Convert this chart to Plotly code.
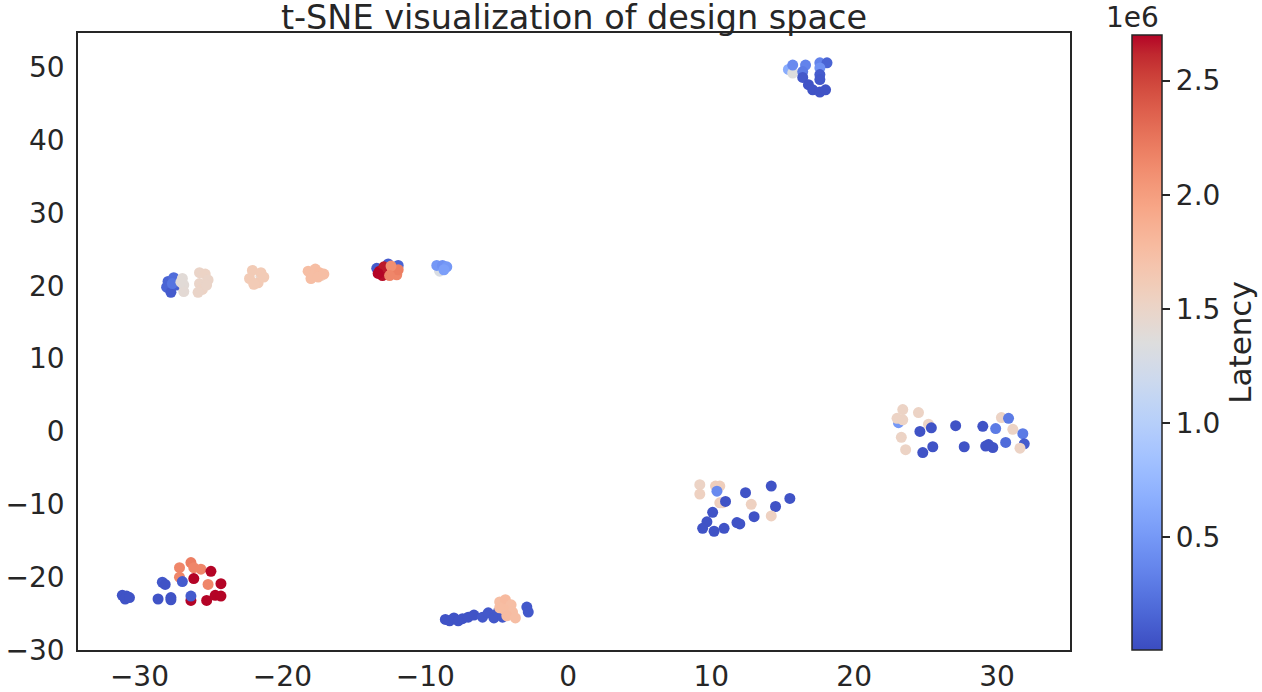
import plotly.graph_objects as go

# ---------------- data ----------------
# Cluster A: top right
xa = [15.4, 15.7, 15.7, 16.6, 16.4, 16.4, 16.8, 17.1, 17.6, 18.0, 17.6, 18.1, 17.6, 17.6, 17.6]
ya = [49.7, 49.2, 50.3, 50.3, 49.4, 48.6, 47.6, 46.9, 46.6, 46.9, 50.6, 50.6, 49.9, 49.0, 48.3]
la = [0.65e6, 1.35e6, 0.4e6, 0.35e6, 0.3e6, 0.08e6, 0.05e6, 0.05e6, 0.05e6, 0.05e6, 0.35e6, 0.15e6, 0.45e6, 0.1e6, 0.08e6]

# Cluster B: row near y = 21
xb = [-28.0, -27.6, -28.1, -27.8, -27.4, -27.7,
      -27.0, -26.9, -26.9, -27.1,
      -25.8, -25.4, -25.2, -25.8, -25.6, -25.9, -25.3,
      -21.5, -22.1, -21.5, -22.3, -21.7, -22.0, -21.3,
      -17.3, -18.2, -17.7, -17.4, -18.0, -17.5, -17.1,
      -13.4, -12.6, -11.9, -13.2, -13.0, -12.9, -13.3,
      -12.3, -12.0, -11.9, -12.4, -12.5,
      -9.0, -9.2, -8.8, -8.5, -8.7]
yb = [20.6, 21.1, 19.8, 19.1, 20.1, 20.3,
      21.0, 20.1, 19.2, 20.5,
      21.8, 21.6, 20.8, 20.3, 19.5, 19.1, 20.1,
      21.3, 22.1, 21.8, 21.0, 20.4, 20.2, 21.2,
      21.4, 22.0, 22.3, 21.8, 21.0, 21.2, 21.6,
      22.4, 23.0, 22.8, 22.0, 21.4, 22.6, 21.7,
      22.0, 21.5, 22.2, 22.7, 21.4,
      22.0, 22.8, 22.8, 22.6, 22.2]
lb = [0.15e6, 0.2e6, 0.15e6, 0.1e6, 0.12e6, 0.25e6,
      1.4e6, 1.4e6, 1.42e6, 1.4e6,
      1.5e6, 1.52e6, 1.5e6, 1.5e6, 1.52e6, 1.5e6, 1.5e6,
      1.45e6, 1.62e6, 1.62e6, 1.62e6, 1.63e6, 1.62e6, 1.62e6,
      1.5e6, 1.75e6, 1.75e6, 1.76e6, 1.75e6, 1.75e6, 1.75e6,
      0.1e6, 0.1e6, 0.15e6, 2.7e6, 2.68e6, 2.65e6, 2.7e6,
      2.2e6, 2.15e6, 2.2e6, 2.1e6, 2.15e6,
      1.3e6, 0.5e6, 0.45e6, 0.5e6, 0.55e6]

# Cluster C: bottom left
xc = [-31.2, -30.9, -31.0, -30.7, -28.7, -28.4, -28.2, -27.8, -27.8,
      -27.2, -26.4, -26.2, -25.7, -25.0, -27.2, -27.0, -26.2, -25.2,
      -24.3, -26.4, -26.4, -25.3, -24.7, -24.3]
yc = [-22.5, -22.6, -23.0, -22.8, -23.0, -20.7, -21.0, -22.8, -23.1,
      -18.7, -18.0, -18.7, -18.9, -19.2, -20.0, -20.6, -20.2, -21.0,
      -20.9, -23.2, -22.6, -23.2, -22.5, -22.6]
lc = [0.05e6, 0.05e6, 0.05e6, 0.05e6, 0.05e6, 0.08e6, 0.05e6, 0.05e6, 0.05e6,
      2.15e6, 2.2e6, 2.15e6, 2.15e6, 2.7e6, 2.15e6, 0.1e6, 2.7e6, 2.15e6,
      2.7e6, 2.7e6, 0.1e6, 2.7e6, 2.7e6, 2.7e6]

# Cluster D: bottom middle
xd = [-8.6, -8.3, -8.0, -7.7, -7.4, -7.0, -6.6,
      -6.0, -5.6, -5.2, -4.9, -4.6,
      -4.8, -4.4, -4.0, -4.5, -3.9, -4.3, -3.7, -4.8,
      -2.9, -2.8]
yd = [-25.8, -26.0, -25.6, -26.0, -25.7, -25.5, -25.2,
      -25.5, -24.9, -25.6, -24.8, -25.5,
      -23.4, -23.1, -23.8, -24.4, -24.8, -25.3, -25.6, -24.2,
      -24.1, -24.8]
ld = [0.05e6, 0.05e6, 0.05e6, 0.05e6, 0.05e6, 0.05e6, 0.05e6,
      0.08e6, 0.08e6, 0.08e6, 0.08e6, 0.08e6,
      1.75e6, 1.78e6, 1.75e6, 1.76e6, 1.75e6, 1.77e6, 1.75e6, 1.76e6,
      0.08e6, 0.08e6]

# Cluster E: middle right
xe = [9.2, 9.2, 10.3, 10.6, 10.4, 10.6, 10.8, 11.0, 12.4, 14.2, 15.5,
      12.8, 14.5, 14.2, 13.0, 10.1, 9.7, 9.4, 10.2, 10.9, 11.8, 12.0]
ye = [-7.3, -8.6, -7.5, -7.5, -8.2, -9.8, -9.8, -9.6, -8.4, -7.5, -9.2,
      -10.0, -10.3, -11.6, -11.7, -11.1, -12.4, -13.3, -13.7, -13.3, -12.5, -12.7]
le = [1.52e6, 1.55e6, 1.58e6, 1.58e6, 0.4e6, 1.58e6, 1.55e6, 0.05e6, 0.05e6, 0.05e6, 0.05e6,
      1.55e6, 0.05e6, 1.55e6, 0.05e6, 0.05e6, 0.05e6, 0.05e6, 0.05e6, 0.05e6, 0.05e6, 0.05e6]

# Cluster F: right
xf = [23.4, 24.5, 23.1, 23.0, 23.4, 25.2, 24.6, 25.4, 23.3, 23.6, 24.8, 25.5,
      27.1, 27.7, 29.0, 29.9, 30.3, 30.8, 31.1, 31.8, 29.4, 29.7, 29.2, 30.6, 31.9, 31.6]
yf = [3.0, 2.6, 1.2, 1.8, 1.6, 1.0, 0.0, 0.5, -0.8, -2.5, -2.9, -2.1,
      0.8, -2.1, 0.7, 0.4, 1.9, 1.8, 0.3, -0.3, -1.8, -2.2, -2.0, -1.5, -1.7, -2.3]
lf = [1.52e6, 1.52e6, 0.5e6, 1.52e6, 1.52e6, 1.52e6, 0.05e6, 0.05e6, 1.52e6, 1.52e6, 0.05e6, 0.05e6,
      0.05e6, 0.05e6, 0.05e6, 0.3e6, 1.52e6, 0.3e6, 1.52e6, 0.3e6, 0.05e6, 0.05e6, 0.05e6, 0.2e6, 0.1e6, 1.52e6]

cb_tickvals = [0.5e6, 1.0e6, 1.5e6, 2.0e6, 2.5e6]
cb_ticktext = ["0.5", "1.0", "1.5", "2.0", "2.5"]
x_ticks = [-30, -20, -10, 0, 10, 20, 30]
y_ticks = [-30, -20, -10, 0, 10, 20, 30, 40, 50]

# ---------------- coolwarm colour scale ----------------
coolwarm_rgb = [
    (59, 76, 192), (68, 90, 204), (77, 104, 215), (87, 117, 225), (98, 130, 234),
    (108, 142, 241), (119, 154, 247), (130, 165, 251), (141, 176, 254), (152, 185, 255),
    (163, 194, 255), (174, 201, 253), (184, 208, 249), (194, 213, 244), (204, 217, 238),
    (213, 219, 230), (221, 221, 221), (229, 216, 209), (236, 211, 197), (241, 204, 184),
    (245, 196, 173), (247, 187, 160), (247, 177, 148), (247, 166, 135), (244, 154, 123),
    (241, 141, 111), (236, 127, 99), (229, 112, 88), (222, 96, 77), (213, 80, 66),
    (203, 62, 56), (192, 40, 47), (180, 4, 38)]
n = len(coolwarm_rgb) - 1
colorscale = [[i / n, "rgb(%d,%d,%d)" % c] for i, c in enumerate(coolwarm_rgb)]

xs = xa + xb + xc + xd + xe + xf
ys = ya + yb + yc + yd + ye + yf
ls = la + lb + lc + ld + le + lf

FONT = "DejaVu Sans"
DARK = "#262626"
TICK = 28

fig = go.Figure()
fig.add_trace(go.Scatter(
    x=xs, y=ys, mode="markers",
    marker=dict(
        size=11, color=ls, colorscale=colorscale, cmin=7e3, cmax=2.7e6,
        line=dict(width=0),
        colorbar=dict(
            title=dict(text="Latency", side="right", font=dict(size=31, color=DARK, family=FONT)),
            tickvals=cb_tickvals, ticktext=cb_ticktext,
            tickfont=dict(size=TICK, color=DARK, family=FONT),
            ticks="outside", ticklen=8, tickwidth=1.5, tickcolor=DARK,
            thickness=30, len=615 / 617, lenmode="fraction",
            x=(1132 - 78) / 992, xanchor="left", xpad=0, ypad=0,
            y=(650 - 342.5) / 617, yanchor="middle",
            outlinewidth=1.5, outlinecolor=DARK,
        ),
    ),
    showlegend=False,
    hoverinfo="skip",
))

fig.add_annotation(text="1e6", xref="paper", yref="paper", x=(1161 - 78) / 992, y=1.0,
                   xanchor="right", yanchor="bottom", showarrow=False,
                   font=dict(size=TICK, color=DARK, family=FONT), yshift=-3)

fig.update_layout(
    width=1262, height=692,
    margin=dict(l=78, r=192, t=33, b=42, autoexpand=False),
    paper_bgcolor="white", plot_bgcolor="white",
    font=dict(family=FONT, color=DARK, size=TICK),
    title=dict(text="t-SNE visualization of design space", x=0.5, xref="paper",
               xanchor="center", y=1 - 17 / 692, yref="container", yanchor="middle",
               font=dict(size=33.5, color=DARK, family=FONT)),
)
fig.update_xaxes(range=[-34.3, 35.1], tickvals=x_ticks, showgrid=False, zeroline=False,
                 showline=True, mirror=True, linecolor=DARK, linewidth=1.5,
                 tickfont=dict(size=TICK, color=DARK, family=FONT), ticks="",
                 automargin=False, ticklabelstandoff=1)
fig.update_yaxes(range=[-30, 54.7], tickvals=y_ticks, showgrid=False, zeroline=False,
                 showline=True, mirror=True, linecolor=DARK, linewidth=1.5,
                 tickfont=dict(size=TICK, color=DARK, family=FONT), ticks="",
                 automargin=False, ticklabelstandoff=6)

fig.write_html("out.html", config={"displayModeBar": False},
               post_script="document.body.style.margin='0';document.body.style.overflow='hidden';")
